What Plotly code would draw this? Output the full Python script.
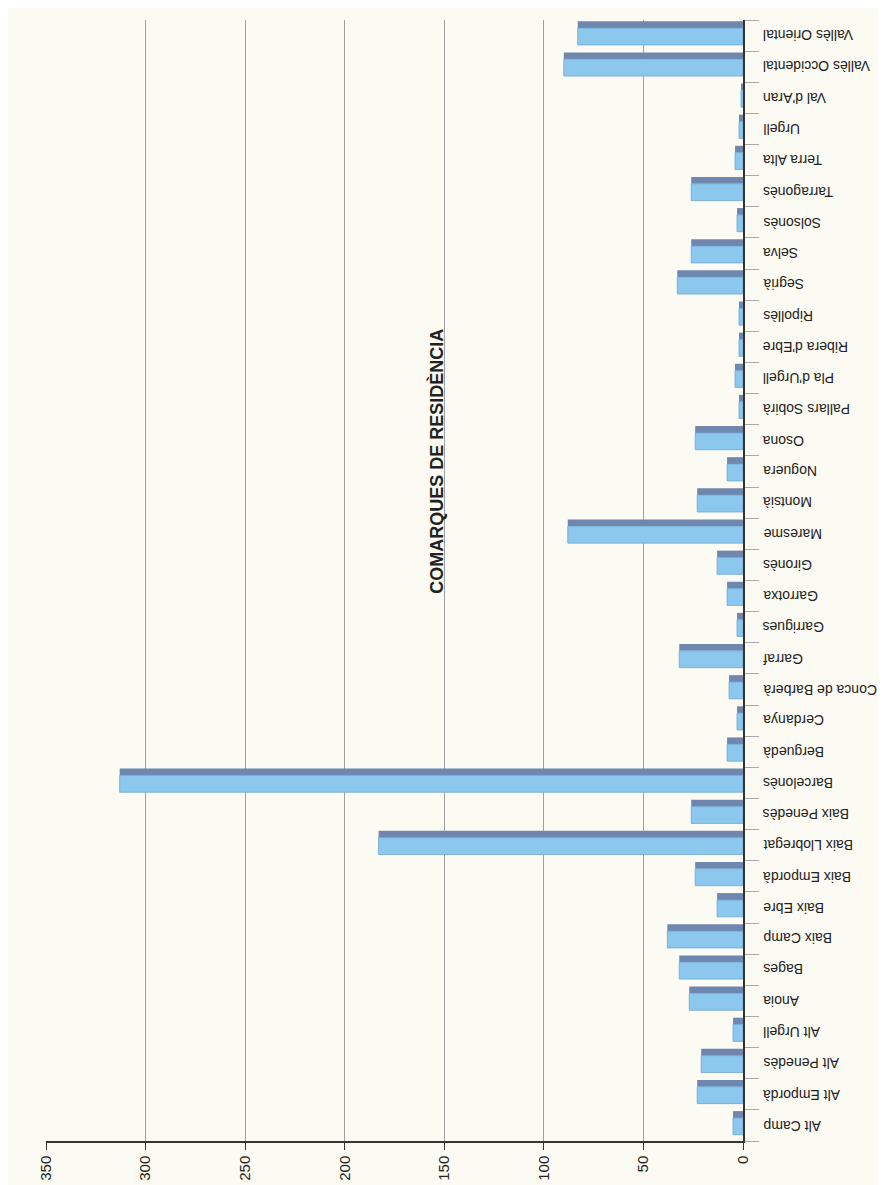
import plotly.graph_objects as go

comarques = [
    "Alt Camp", "Alt Empordà", "Alt Penedès", "Alt Urgell", "Anoia", "Bages",
    "Baix Camp", "Baix Ebre", "Baix Empordà", "Baix Llobregat", "Baix Penedès",
    "Barcelonès", "Berguedà", "Cerdanya", "Conca de Barberà", "Garraf",
    "Garrigues", "Garrotxa", "Gironès", "Maresme", "Montsià", "Noguera", "Osona",
    "Pallars Sobirà", "Pla d'Urgell", "Ribera d'Ebre", "Ripollès", "Segrià",
    "Selva", "Solsonès", "Tarragonès", "Terra Alta", "Urgell", "Val d'Aran",
    "Vallès Occidental", "Vallès Oriental",
]
valors = [
    5, 23, 21, 5, 27, 32,
    38, 13, 24, 183, 26,
    313, 8, 3, 7, 32,
    3, 8, 13, 88, 23, 8, 24,
    2, 4, 2, 2, 33,
    26, 3, 26, 4, 2, 1,
    90, 83,
]
value_ticks = [0, 50, 100, 150, 200, 250, 300, 350]
title_text = "COMARQUES DE RESIDÈNCIA"

paper = "#fbfaf3"
front = "#8cc8ee"
top = "#6f87ae"

fig = go.Figure()
# top (darker) face of the pseudo-3D bars
fig.add_trace(go.Bar(
    y=comarques, x=valors, orientation="h",
    marker=dict(color=top, line=dict(width=0)),
    offset=0.24, width=0.22, hoverinfo="skip", showlegend=False,
))
# front (lighter) face
fig.add_trace(go.Bar(
    y=comarques, x=valors, orientation="h",
    marker=dict(color=front, line=dict(color="#6fa6cf", width=0.8)),
    offset=-0.30, width=0.54, showlegend=False,
))

annotations = [dict(
    text="<b>" + title_text + "</b>", textangle=-90,
    xref="paper", yref="paper", x=0.561, y=0.606,
    showarrow=False, font=dict(size=18, color="#222"),
)]
for name in comarques:
    annotations.append(dict(
        text=name, textangle=180,
        xref="paper", yref="y", x=1.0, y=name,
        xanchor="left", yanchor="middle", xshift=18,
        showarrow=False, font=dict(size=14, color="#222"),
    ))

fig.update_layout(
    width=886, height=1185,
    margin=dict(l=38, r=151, t=12, b=52),
    paper_bgcolor=paper, plot_bgcolor=paper,
    barmode="overlay",
    font=dict(family="Liberation Sans, Arial, sans-serif", color="#222"),
    xaxis=dict(
        range=[350, 0], tickvals=value_ticks, ticktext=[str(v) for v in value_ticks],
        tickangle=-90, tickfont=dict(size=15, color="#222"),
        showgrid=True, gridcolor="#a0a0a0", gridwidth=1,
        showline=True, linecolor="#333", linewidth=1.5,
        ticks="outside", ticklen=7, tickcolor="#333",
        zeroline=False, fixedrange=True,
    ),
    yaxis=dict(
        side="right", type="category", categoryorder="array", categoryarray=comarques,
        range=[-0.5, 35.5], showticklabels=False,
        showline=True, linecolor="#333", linewidth=1.5,
        ticks="outside", tickson="boundaries", ticklen=14, tickcolor="#aaa",
        showgrid=False, zeroline=False, fixedrange=True,
    ),
    annotations=annotations,
)

fig.write_html("out.html")
